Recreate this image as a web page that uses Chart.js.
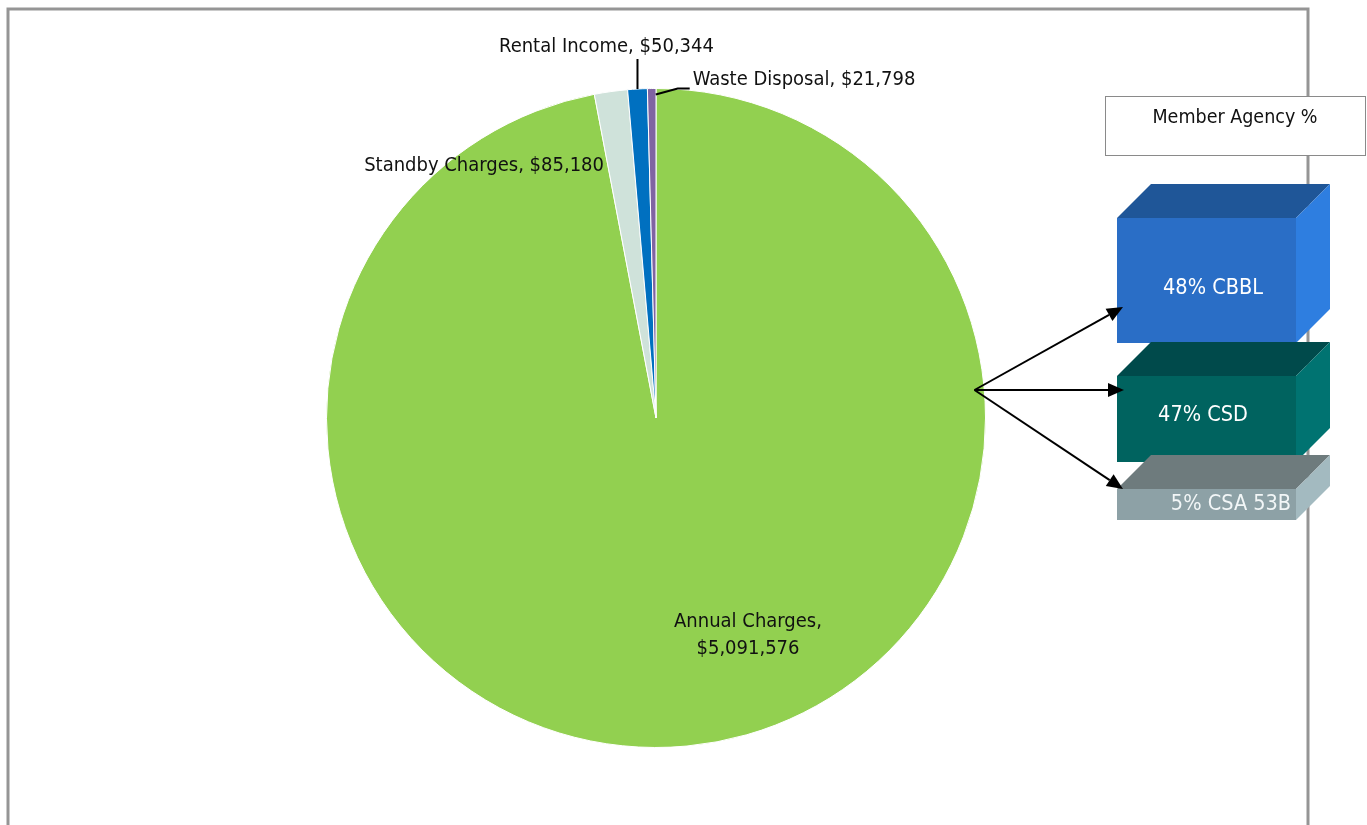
<!DOCTYPE html>
<html>
<head>
<meta charset="utf-8">
<script src="https://cdn.jsdelivr.net/npm/chart.js@4/dist/chart.umd.min.js"></script>
<style>
  html, body { margin: 0; padding: 0; background: #fff; overflow: hidden; }
  canvas { display: block; }
</style>
</head>
<body>
<canvas id="chart" width="1367" height="825"></canvas>
<script>
// revenue pie + member agency split boxes

const categories = ["Annual Charges", "Standby Charges", "Rental Income", "Waste Disposal"];
const amounts = [5091576, 85180, 50344, 21798];
const sliceColors = ["#92D050", "#CFE2DA", "#0070C0", "#8064A2"];

const agencyNames = ["CBBL", "CSD", "CSA 53B"];
const agencyShares = [48, 47, 5];

const FONT = '"Liberation Sans Narrow", "Arial Narrow", "DejaVu Sans Condensed", sans-serif';

function money(v) {
  return "$" + v.toLocaleString("en-US");
}

// grey outer frame, drawn under the pie
const framePlugin = {
  id: "frame",
  beforeDraw(chart) {
    const c = chart.ctx;
    c.save();
    c.strokeStyle = "#959595";
    c.lineWidth = 3;
    c.beginPath();
    c.moveTo(8, 840);
    c.lineTo(8, 9);
    c.lineTo(1308, 9);
    c.lineTo(1308, 840);
    c.stroke();
    c.restore();
  }
};

// slice labels with leader lines
const sliceLabels = {
  id: "sliceLabels",
  afterDatasetsDraw(chart) {
    const c = chart.ctx;
    const arcs = chart.getDatasetMeta(0).data;
    const a0 = arcs[0];
    const cx = a0.x, cy = a0.y, r = a0.outerRadius;
    c.save();
    c.font = "20px " + FONT;
    c.fillStyle = "#111";
    c.textBaseline = "middle";

    // Annual Charges, inside the big slice
    c.textAlign = "center";
    c.fillText(categories[0] + ",", cx + 92, cy + 204);
    c.fillText(money(amounts[0]), cx + 92, cy + 231);

    // Standby Charges, inside near top left
    c.textAlign = "right";
    c.fillText(categories[1] + ", " + money(amounts[1]), cx - 52, cy - 252);

    // Rental Income, above with vertical leader
    const rMid = (arcs[2].startAngle + arcs[2].endAngle) / 2;
    const rx = cx + Math.cos(rMid) * r, ry = cy + Math.sin(rMid) * r;
    c.strokeStyle = "#000";
    c.lineWidth = 2;
    c.beginPath();
    c.moveTo(rx, ry);
    c.lineTo(rx, ry - 30);
    c.stroke();
    c.textAlign = "center";
    c.fillText(categories[2] + ", " + money(amounts[2]), rx - 31, ry - 42);

    // Waste Disposal, right with bent leader
    const wMid = (arcs[3].startAngle + arcs[3].endAngle) / 2;
    const wx = cx + Math.cos(wMid) * r + 4, wy = cy + Math.sin(wMid) * r + 6;
    c.beginPath();
    c.moveTo(wx, wy);
    c.lineTo(wx + 22, wy - 6);
    c.lineTo(wx + 34, wy - 6);
    c.stroke();
    c.textAlign = "left";
    c.fillText(categories[3] + ", " + money(amounts[3]), wx + 37, wy - 15);
    c.restore();
  }
};

function box3d(c, x, y, w, h, d, front, top, side) {
  c.fillStyle = top;
  c.beginPath();
  c.moveTo(x, y);
  c.lineTo(x + d, y - d);
  c.lineTo(x + w + d, y - d);
  c.lineTo(x + w, y);
  c.closePath();
  c.fill();
  c.fillStyle = side;
  c.beginPath();
  c.moveTo(x + w, y);
  c.lineTo(x + w + d, y - d);
  c.lineTo(x + w + d, y + h - d);
  c.lineTo(x + w, y + h);
  c.closePath();
  c.fill();
  c.fillStyle = front;
  c.fillRect(x, y, w, h);
}

function arrow(c, x1, y1, x2, y2) {
  const ang = Math.atan2(y2 - y1, x2 - x1);
  const hl = 16, hw = 7;
  const bx = x2 - Math.cos(ang) * hl, by = y2 - Math.sin(ang) * hl;
  c.beginPath();
  c.moveTo(x1, y1);
  c.lineTo(bx, by);
  c.stroke();
  c.beginPath();
  c.moveTo(x2, y2);
  c.lineTo(bx - Math.sin(ang) * hw, by + Math.cos(ang) * hw);
  c.lineTo(bx + Math.sin(ang) * hw, by - Math.cos(ang) * hw);
  c.closePath();
  c.fill();
}

// member agency panel on the right
const agencyPanel = {
  id: "agencyPanel",
  afterDraw(chart) {
    const c = chart.ctx;
    c.save();
    // title box
    c.fillStyle = "#fff";
    c.fillRect(1105, 96, 261, 60);
    c.strokeStyle = "#8a8a8a";
    c.lineWidth = 1;
    c.strokeRect(1105.5, 96.5, 260, 59);
    c.fillStyle = "#111";
    c.font = "19.5px " + FONT;
    c.textAlign = "center";
    c.textBaseline = "middle";
    c.fillText("Member Agency %", 1235, 118);

    const boxes = [
      { y: 218, h: 125, front: "#2A6EC6", top: "#1F5698", side: "#2E7EE0", text: "#fff", tx: 1213, ty: 288 },
      { y: 376, h: 86, front: "#00635F", top: "#004A4B", side: "#007371", text: "#fff", tx: 1203, ty: 415 },
      { y: 489, h: 31, front: "#8DA1A6", top: "#6E7B7D", side: "#A3BAC0", text: "#f2f6f7", tx: 1231, ty: 504 }
    ];
    c.font = "21.5px " + FONT;
    boxes.forEach((b, i) => {
      box3d(c, 1117, b.y, 179, b.h, 34, b.front, b.top, b.side);
      c.fillStyle = b.text;
      c.fillText(agencyShares[i] + "% " + agencyNames[i], b.tx, b.ty);
    });

    // arrows from the pie edge
    const a0 = chart.getDatasetMeta(0).data[0];
    const sx = a0.x + a0.outerRadius - 11, sy = 390;
    c.strokeStyle = "#000";
    c.fillStyle = "#000";
    c.lineWidth = 2;
    arrow(c, sx, sy, 1123, 307);
    arrow(c, sx, sy, 1124, 390);
    arrow(c, sx, sy, 1123, 489);
    c.restore();
  }
};

new Chart(document.getElementById("chart"), {
  type: "pie",
  data: {
    labels: categories,
    datasets: [{
      data: amounts,
      backgroundColor: sliceColors,
      borderColor: "#fff",
      borderWidth: 1
    }]
  },
  options: {
    responsive: false,
    animation: false,
    rotation: 0,
    layout: {
      padding: { left: 326, right: 381, top: 88, bottom: 77 }
    },
    plugins: {
      legend: { display: false },
      tooltip: { enabled: false }
    }
  },
  plugins: [framePlugin, sliceLabels, agencyPanel]
});
</script>
</body>
</html>
